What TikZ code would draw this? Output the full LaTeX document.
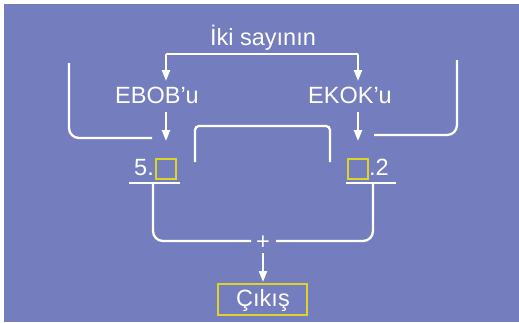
\documentclass[tikz,border=0pt]{standalone}
\usepackage{fontspec}
\setmainfont{Liberation Sans}
\usetikzlibrary{arrows.meta}
\definecolor{bg}{RGB}{116,126,190}
\definecolor{ylw}{RGB}{222,212,40}
\begin{document}
\begin{tikzpicture}[x=1pt,y=-1pt,
  wl/.style={draw=white,line width=2.3pt},
  arr/.style={wl,-{Triangle[width=8pt,length=11pt]}},
  lbl/.style={text=white,font=\fontsize{23.5}{26}\selectfont,inner sep=0pt,anchor=base},
  ybox/.style={draw=ylw,line width=1.5pt,minimum width=20pt,minimum height=20pt,inner sep=0pt}]
\useasboundingbox[fill=white] (0,0) rectangle (519,322);
\fill[bg] (4,4) rectangle (519,322);
% texts
\node[lbl] (iki) at (263,45) {İki sayının};
\node[lbl] (ebob) at (157,103) {EBOB’u};
\node[lbl] (ekok) at (350,103) {EKOK’u};
\node[lbl,anchor=base east] (five) at (154,175) {5.};
\node[ybox] (b1) at (166,169) {};
\node[ybox] (b2) at (358,169) {};
\node[lbl,anchor=base west] (two) at (369,175) {.2};
\node[lbl] (plus) at (263,249) {+};
\node[draw=ylw,line width=1.5pt,minimum width=89pt,minimum height=31pt,inner sep=0pt] (cikis) at (262.5,299.5) {};
\node[lbl] (cikist) at (263,306) {Çıkış};
% coordinates
\coordinate (tl) at (166,54);
\coordinate (tr) at (358,54);
\coordinate (ta1) at (166,81);
\coordinate (ta2) at (358,81);
\coordinate (ea1) at (166,112);
\coordinate (ea2) at (166,141);
\coordinate (ka1) at (358,112);
\coordinate (ka2) at (358,141);
\coordinate (u1a) at (129,183);
\coordinate (u1b) at (180,183);
\coordinate (u2a) at (346,183);
\coordinate (u2b) at (396,183);
\coordinate (p1) at (153,183);
\coordinate (p2) at (373,183);
\coordinate (pl) at (251,241);
\coordinate (pr) at (276,241);
\coordinate (pa1) at (263,253);
\coordinate (pa2) at (263,282);
% top bracket
\draw[wl] (tl) -- (tr);
\draw[arr] (tl) -- (ta1);
\draw[arr] (tr) -- (ta2);
\draw[arr] (ea1) -- (ea2);
\draw[arr] (ka1) -- (ka2);
% side brackets
\draw[wl,rounded corners=10pt] (69,63) -- (69,138) -- (152,138);
\draw[wl,rounded corners=10pt] (457,60) -- (457,135) -- (374,135);
\draw[wl,rounded corners=4pt] (195,162) -- (195,126) -- (330,126) -- (330,162);
% underlines
\draw[wl] (u1a) -- (u1b);
\draw[wl] (u2a) -- (u2b);
% bottom bracket
\draw[wl,rounded corners=10pt] (p1) -- (153,241) -- (pl);
\draw[wl,rounded corners=10pt] (p2) -- (373,241) -- (pr);
\draw[arr] (pa1) -- (pa2);
\end{tikzpicture}
\end{document}
